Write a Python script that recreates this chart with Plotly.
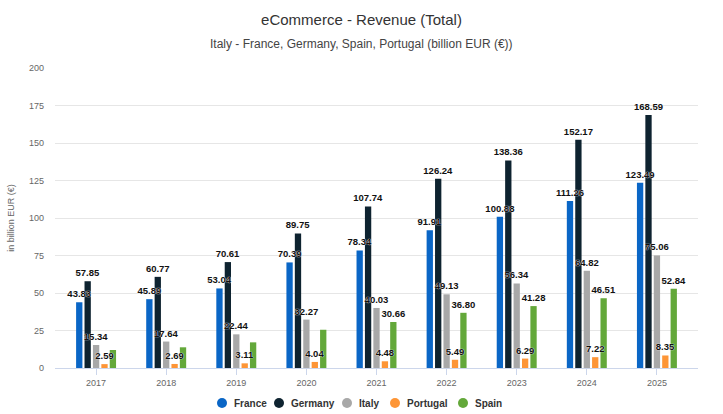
import plotly.graph_objects as go

years = ["2017", "2018", "2019", "2020", "2021", "2022", "2023", "2024", "2025"]
france = [43.83, 45.89, 53.04, 70.39, 78.34, 91.91, 100.88, 111.26, 123.49]
germany = [57.85, 60.77, 70.61, 89.75, 107.74, 126.24, 138.36, 152.17, 168.59]
italy = [15.34, 17.64, 22.44, 32.27, 40.03, 49.13, 56.34, 64.82, 75.06]
portugal = [2.59, 2.69, 3.11, 4.04, 4.48, 5.49, 6.29, 7.22, 8.35]
spain = [12.0, 13.8, 17.1, 25.5, 30.66, 36.80, 41.28, 46.51, 52.84]
spain_label_shown = [False, False, False, False, True, True, True, True, True]
y_ticks = [0, 25, 50, 75, 100, 125, 150, 175, 200]

series = [
    ("France", france, "#0a66c6", None),
    ("Germany", germany, "#0e2330", None),
    ("Italy", italy, "#a8a8a8", None),
    ("Portugal", portugal, "#fd9536", None),
    ("Spain", spain, "#63a83a", spain_label_shown),
]

FONT = "Liberation Sans, Arial, sans-serif"
W, H = 723, 414
ML, MR, MT, MB = 55, 25, 68, 46
PW, PH = W - ML - MR, H - MT - MB
x_idx = list(range(len(years)))

fig = go.Figure()
# bars
for name, vals, color, mask in series:
    fig.add_trace(go.Bar(
        x=x_idx, y=vals, name=name, offsetgroup=name, showlegend=False,
        marker=dict(color=color, line=dict(width=0)),
        hovertemplate=name + ": %{y:.2f}<extra></extra>",
    ))
# data labels drawn on top of all bars
for name, vals, color, mask in series:
    labels = [f"{v:.2f}" if (mask is None or mask[i]) else "" for i, v in enumerate(vals)]
    fig.add_trace(go.Bar(
        x=x_idx, y=vals, name=name + " labels", offsetgroup=name, showlegend=False,
        marker=dict(color="rgba(0,0,0,0)", line=dict(width=0)),
        text=labels, texttemplate="%{text}", textposition="outside",
        constraintext="none", cliponaxis=False,
        textfont=dict(family=FONT, size=9.5, color="#111111", weight="bold",
                      shadow="0px 0px 1px #ffffff, 0px 0px 1px #ffffff"),
        hoverinfo="skip",
    ))

# legend (drawn manually for Highcharts-like compact spacing)
legend_px = [222, 279, 347, 395, 463]
legend_py = 403
shapes = []
annotations = []
for (name, vals, color, mask), px in zip(series, legend_px):
    cx = (px - ML) / PW
    cy = (H - MB - legend_py) / PH
    rx, ry = 5 / PW, 5 / PH
    shapes.append(dict(type="circle", xref="paper", yref="paper",
                       x0=cx - rx, x1=cx + rx, y0=cy - ry, y1=cy + ry,
                       fillcolor=color, line=dict(width=0)))
    annotations.append(dict(text=f"<b>{name}</b>", xref="paper", yref="paper",
                            x=(px + 10 - ML) / PW, y=cy, xanchor="left", yanchor="middle",
                            showarrow=False,
                            font=dict(family=FONT, size=10, color="#333333")))

annotations.append(dict(
    text="Italy - France, Germany, Spain, Portugal (billion EUR (€))",
    xref="paper", yref="paper", x=(W / 2 - ML) / PW, y=1 + (MT - 44) / PH,
    xanchor="center", yanchor="middle", showarrow=False,
    font=dict(family=FONT, size=12, color="#444444"),
))

fig.update_layout(
    width=W, height=H,
    margin=dict(l=ML, r=MR, t=MT, b=MB, autoexpand=False),
    paper_bgcolor="white", plot_bgcolor="white",
    barmode="group", bargap=0.4, bargroupgap=0.25,
    font=dict(family=FONT, color="#333333"),
    showlegend=False,
    title=dict(
        text="eCommerce - Revenue (Total)",
        x=0.5, xanchor="center", xref="container",
        y=1 - 20 / H, yanchor="middle", yref="container",
        font=dict(family=FONT, size=15, color="#333333"),
    ),
    shapes=shapes,
    annotations=annotations,
    xaxis=dict(
        tickmode="array", tickvals=x_idx, ticktext=years,
        range=[-0.586, len(years) - 0.414],
        showgrid=False, zeroline=False,
        showline=True, linecolor="#ccd6eb", linewidth=1,
        ticks="outside", ticklen=6, tickcolor="#ccd6eb",
        tickfont=dict(family=FONT, size=9, color="#666666"),
    ),
    yaxis=dict(
        range=[0, 200], tickmode="array", tickvals=y_ticks,
        showgrid=True, gridcolor="#e6e6e6", gridwidth=1,
        zeroline=False, showline=False,
        ticks="", ticklabelstandoff=10,
        tickfont=dict(family=FONT, size=9, color="#666666"),
        title=dict(text="in billion EUR (€)", font=dict(family=FONT, size=9, color="#666666"), standoff=12),
    ),
)

fig.write_html(
    "out.html",
    config={"displayModeBar": False},
    post_script="document.body.style.margin='0';document.body.style.padding='0';",
)
